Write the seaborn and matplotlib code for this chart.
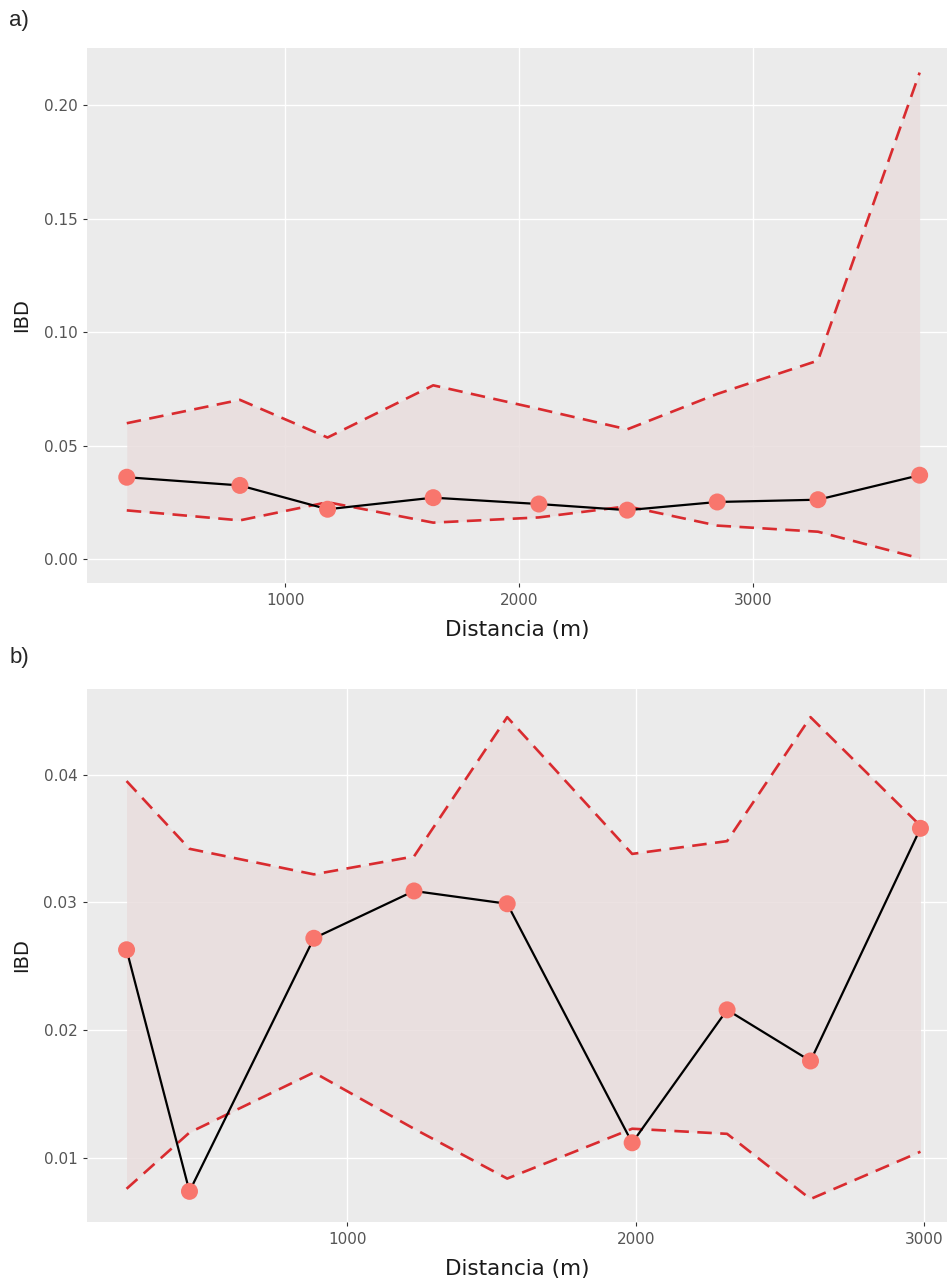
import numpy as np
import pandas as pd
import matplotlib
matplotlib.use("Agg")
import matplotlib.pyplot as plt
import seaborn as sns

# Panel a data
dist_a = [322, 806, 1181, 1633, 2085, 2463, 2848, 3279, 3714]
ibd_a = [0.0361, 0.0325, 0.0220, 0.0271, 0.0243, 0.0216, 0.0252, 0.0262, 0.0370]
upper_a = [0.0599, 0.0702, 0.0536, 0.0766, 0.0662, 0.0572, 0.0728, 0.0875, 0.2144]
lower_a = [0.0215, 0.0171, 0.0251, 0.0161, 0.0184, 0.0233, 0.0148, 0.0121, 0.0004]

# Panel b data
dist_b = [235, 453, 884, 1231, 1554, 1987, 2316, 2605, 2986]
ibd_b = [0.0263, 0.0074, 0.0272, 0.0309, 0.0299, 0.0112, 0.0216, 0.0176, 0.0358]
upper_b = [0.0395, 0.0342, 0.0322, 0.0336, 0.0445, 0.0338, 0.0348, 0.0445, 0.0360]
lower_b = [0.0076, 0.0120, 0.0167, 0.0123, 0.0084, 0.0123, 0.0119, 0.0068, 0.0105]

yticks_a = [0.00, 0.05, 0.10, 0.15, 0.20]
yticks_b = [0.01, 0.02, 0.03, 0.04]
xticks = [1000, 2000, 3000]

sns.set_theme(style="darkgrid")
plt.rcParams.update({
    "axes.facecolor": "#EBEBEB",
    "grid.color": "white",
    "grid.linewidth": 1.0,
    "xtick.bottom": True,
    "ytick.left": True,
    "xtick.major.size": 3,
    "ytick.major.size": 3,
    "xtick.color": "#333333",
    "ytick.color": "#333333",
    "xtick.labelcolor": "#555555",
    "ytick.labelcolor": "#555555",
})
plt.rcParams["font.family"] = ["DejaVu Sans"]

fig = plt.figure(figsize=(9.47, 12.85), dpi=100)
ax_a = fig.add_axes([0.0919, 0.5463, 0.9081, 0.4163])
ax_b = fig.add_axes([0.0919, 0.0490, 0.9081, 0.4148])


def draw(ax, d, y, up, lo, yticks, xlim, ylim, fmt):
    df = pd.DataFrame({"dist": d, "ibd": y, "upper": up, "lower": lo})
    ax.fill_between(df["dist"], df["lower"], df["upper"], color="#E9DDDD", alpha=0.85, lw=0, zorder=1)
    sns.lineplot(data=df, x="dist", y="upper", ax=ax, color="#D92B2F", lw=1.9,
                 linestyle=(0, (5.5, 3.2)), zorder=2)
    sns.lineplot(data=df, x="dist", y="lower", ax=ax, color="#D92B2F", lw=1.9,
                 linestyle=(0, (5.5, 3.2)), zorder=2)
    sns.lineplot(data=df, x="dist", y="ibd", ax=ax, color="black", lw=1.6, zorder=3)
    sns.scatterplot(data=df, x="dist", y="ibd", ax=ax, color="#F8766D", s=150,
                    edgecolor="none", zorder=4)
    ax.set_xlim(*xlim)
    ax.set_ylim(*ylim)
    ax.set_xticks(xticks)
    ax.set_yticks(yticks)
    ax.set_yticklabels([fmt.format(v) for v in yticks])
    ax.tick_params(labelsize=11, length=3, width=0.8, pad=4)
    ax.set_xlabel("Distancia (m)", fontsize=15.5, color="#1a1a1a", labelpad=9)
    ax.set_ylabel("IBD", fontsize=14, color="#1a1a1a", labelpad=9)
    for s in ax.spines.values():
        s.set_visible(False)
    ax.grid(True, color="white", lw=1.0)


draw(ax_a, dist_a, ibd_a, upper_a, lower_a, yticks_a, (152, 3831), (-0.0105, 0.2252), "{:.2f}")
draw(ax_b, dist_b, ibd_b, upper_b, lower_b, yticks_b, (98, 3078), (0.0050, 0.0467), "{:.2f}")

fig.text(0.010, 0.984, "a)", fontsize=16, family="Liberation Sans", va="center", ha="left")
fig.text(0.010, 0.488, "b)", fontsize=16, family="Liberation Sans", va="center", ha="left")

fig.savefig("out.png", dpi=100, facecolor="white")
